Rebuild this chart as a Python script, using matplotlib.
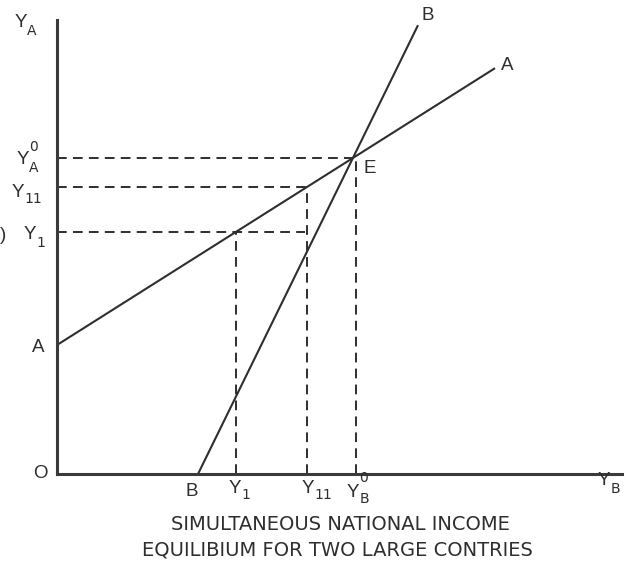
import matplotlib
matplotlib.use("Agg")
import matplotlib.pyplot as plt
import numpy as np

plt.rcParams["font.family"] = ["Liberation Sans", "DejaVu Sans"]

# Income schedules (arbitrary units)
line_a_intercept = 129.0      # A: Y_A as a function of Y_B, intercept on Y_A axis
line_a_slope = 0.632
line_a_end_x = 438.0
line_b_x_intercept = 141.0    # B: starts on the Y_B axis
line_b_slope = 2.04
line_b_end_x = 361.0

# Off-equilibrium income levels of country A
y_levels = [242.0, 287.0]     # Y1, Y11
y_level_names = ["1", "11"]

caption = ["SIMULTANEOUS NATIONAL INCOME", "EQUILIBIUM FOR TWO LARGE CONTRIES"]

ink = "#2e2e2e"

fig = plt.figure(figsize=(6.36, 5.71), dpi=100)
W, H = 636, 571
ax = fig.add_axes([57 / W, 1 - 474 / H, (622 - 57) / W, (474 - 20) / H])
ax.set_xlim(0, 565)
ax.set_ylim(0, 454)
for s in ("top", "right"):
    ax.spines[s].set_visible(False)
for s in ("left", "bottom"):
    ax.spines[s].set_linewidth(2.2)
    ax.spines[s].set_color("#3a3a3a")
ax.set_xticks([])
ax.set_yticks([])


def line_a(x):
    return line_a_intercept + line_a_slope * x


def line_b(x):
    return line_b_slope * (x - line_b_x_intercept)


# Schedules
xa = np.array([0.0, line_a_end_x])
ax.plot(xa, line_a(xa), color=ink, lw=1.5, solid_capstyle="butt")
xb = np.array([line_b_x_intercept, line_b_end_x])
ax.plot(xb, line_b(xb), color=ink, lw=1.5, solid_capstyle="butt")

# Equilibrium E
ex = (line_a_intercept + line_b_slope * line_b_x_intercept) / (line_b_slope - line_a_slope)
ey = line_a(ex)

dash = dict(color=ink, lw=1.4, ls=(0, (5, 3.2)))
ax.plot([0, ex], [ey, ey], **dash)
ax.plot([ex + 3, ex + 3], [0, ey], **dash)

# Y11 and Y1 projections
x_levels = [(y - line_a_intercept) / line_a_slope for y in y_levels]
ax.plot([0, x_levels[1]], [y_levels[1], y_levels[1]], **dash)
ax.plot([x_levels[1], x_levels[1]], [0, y_levels[1]], **dash)
ax.plot([0, x_levels[1] - 2], [y_levels[0], y_levels[0]], **dash)
ax.plot([x_levels[0], x_levels[0]], [0, y_levels[0]], **dash)

fs = 13.5
sfs = 10
tk = dict(color=ink, fontsize=fs, clip_on=False)
sk = dict(color=ink, fontsize=sfs, family="DejaVu Sans", annotation_clip=False,
          textcoords="offset points", ha="left", va="baseline")


def ylab(x, y, sub, sup=None, sub_dy=-4.6, sup_dy=9.0):
    """'Y' with a subscript (and optional superscript); (x, y) is the baseline-left point."""
    ax.text(x, y, "Y", ha="left", va="baseline", **tk)
    ax.annotate(sub, (x, y), xytext=(8.8, sub_dy), **sk)
    if sup is not None:
        ax.annotate(sup, (x, y), xytext=(9.0, sup_dy), **sk)


# Vertical axis labels
ylab(-42, 447, "A", sub_dy=-5.5)
ylab(-40, ey - 6, "A", "0", sub_dy=-5.8)
ylab(-45, y_levels[1] - 10, y_level_names[1])
ylab(-33, y_levels[0] - 7, y_level_names[0], sub_dy=-6.0)
ax.text(-19, line_a_intercept - 3, "A", ha="center", va="center", **tk)
ax.text(-17, 1, "O", ha="center", va="center", **tk)
ax.text(-54, y_levels[0] - 3, ")", ha="center", va="center", **tk)

# Horizontal axis labels
ax.text(line_b_x_intercept - 6, -18, "B", ha="center", va="center", **tk)
ylab(x_levels[0] - 7, -19, y_level_names[0])
ylab(x_levels[1] - 5, -19, y_level_names[1])
ylab(ex - 6, -23, "B", "0", sub_dy=-4.0, sup_dy=11.0)
ylab(541, -11, "B", sub_dy=-5.5)

# Curve labels
ax.text(line_b_end_x + 10, 459, "B", ha="center", va="center", **tk)
ax.text(line_a_end_x + 12, 409, "A", ha="center", va="center", **tk)
ax.text(ex + 17, ey - 11, "E", ha="center", va="center", **tk)

# Caption
fig.text(340 / W, 1 - 525 / H, caption[0], ha="center", va="center",
         fontsize=14, color=ink, family="DejaVu Sans")
fig.text(337 / W, 1 - 550 / H, caption[1], ha="center", va="center",
         fontsize=14, color=ink, family="DejaVu Sans")

fig.savefig("out.png", dpi=100)
